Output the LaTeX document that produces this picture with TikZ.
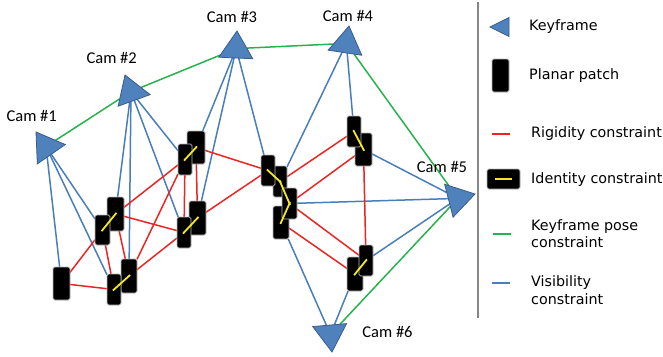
\documentclass[tikz,border=0pt]{standalone}
\usepackage{fontspec}
\usetikzlibrary{shapes.geometric,backgrounds}
\newfontfamily\camfont{Carlito}
\newfontfamily\legfont{DejaVu Sans}
\definecolor{camfill}{RGB}{79,129,189}
\definecolor{camedge}{RGB}{56,93,138}
\definecolor{rigid}{RGB}{238,36,36}
\definecolor{visib}{RGB}{74,126,187}
\definecolor{kfpose}{RGB}{40,178,78}
\definecolor{idline}{RGB}{245,232,30}
\definecolor{patchedge}{RGB}{185,185,185}
\definecolor{divider}{RGB}{135,135,135}
\tikzset{
  cam/.style={shape=isosceles triangle, isosceles triangle stretches,
    minimum width=34pt, minimum height=27pt, inner sep=0pt, outer sep=0pt,
    fill=camfill, draw=camedge, line width=0.8pt, anchor=apex},
  legcam/.style={cam, minimum width=19pt, minimum height=19pt},
  patch/.style={rectangle, fill=black, draw=patchedge, line width=0.8pt,
    rounded corners=1.6pt, inner sep=0pt, outer sep=0pt},
  camlabel/.style={font=\camfont\fontsize{16.5}{20}\selectfont, inner sep=0pt, anchor=base},
  legtext/.style={font=\legfont\fontsize{14.3}{17.5}\selectfont, inner sep=0pt,
    anchor=base west, align=left},
  rigidity/.style={draw=rigid, line width=1.5pt},
  visibility/.style={draw=visib, line width=1.5pt},
  posecon/.style={draw=kfpose, line width=1.5pt},
  identity/.style={draw=idline, line width=1.8pt, shorten <=-1.5pt, shorten >=-1.5pt}
}
\begin{document}
\begin{tikzpicture}[x=1pt,y=-1pt]
\useasboundingbox (0,0) rectangle (663,356);

% keyframes (cameras), placed by apex and heading
\node[cam, rotate=124.6] (c1) at (36,132) {};
\node[cam, rotate=109.8] (c2) at (125,75) {};
\node[cam, rotate=87.4]  (c3) at (237,31) {};
\node[cam, rotate=81.4]  (c4) at (349,26) {};
\node[cam, rotate=14.4]  (c5) at (475,194) {};
\node[cam, rotate=-85]   (c6) at (332,352) {};

\node[camlabel] (l1) at (31.7,121.5) {Cam \#1};
\node[camlabel] (l2) at (111.7,63) {Cam \#2};
\node[camlabel] (l3) at (232,22.5) {Cam \#3};
\node[camlabel] (l4) at (348,21.5) {Cam \#4};
\node[camlabel] (l5) at (442,172.5) {Cam \#5};
\node[camlabel] (l6) at (387.5,337) {Cam \#6};

% planar patches (centres and sizes), back ones first
\node[patch, minimum width=17pt, minimum height=34pt] (A1) at (115.5,214) {};
\node[patch, minimum width=15pt, minimum height=30pt] (A2) at (102.5,230) {};
\node[patch, minimum width=16pt, minimum height=34pt] (B1) at (129,276) {};
\node[patch, minimum width=14pt, minimum height=31pt] (B2) at (114,289.5) {};
\node[patch, minimum width=17pt, minimum height=33pt] (C)  at (61.5,283.5) {};
\node[patch, minimum width=18pt, minimum height=33pt] (D1) at (196,147.5) {};
\node[patch, minimum width=14pt, minimum height=31pt] (D2) at (185,159.5) {};
\node[patch, minimum width=17pt, minimum height=34pt] (E1) at (197.5,218) {};
\node[patch, minimum width=14pt, minimum height=31pt] (E2) at (184,232.5) {};
\node[patch, minimum width=16pt, minimum height=33pt] (F4) at (281,222.5) {};
\node[patch, minimum width=14pt, minimum height=31pt] (F2) at (280,181.5) {};
\node[patch, minimum width=15pt, minimum height=31pt] (F3) at (289.5,203.5) {};
\node[patch, minimum width=14pt, minimum height=31pt] (F1) at (268,170.5) {};
\node[patch, minimum width=17pt, minimum height=33pt] (G2) at (363.5,149.5) {};
\node[patch, minimum width=14pt, minimum height=31pt] (G1) at (354,131.5) {};
\node[patch, minimum width=16pt, minimum height=34pt] (H2) at (355,274) {};
\node[patch, minimum width=14pt, minimum height=31pt] (H1) at (366,260.5) {};

% identity constraints between overlapping patches
\draw[identity] (A2.center) -- (A1.center);
\draw[identity] (B2.center) -- (B1.center);
\draw[identity] (D2.center) -- (D1.center);
\draw[identity] (E2.center) -- (E1.center);
\draw[identity] (F1.center) -- (F2.center);
\draw[identity] (F2.center) -- (F3.center);
\draw[identity] (F3.center) -- (F4.center);
\draw[identity] (G1.center) -- (G2.center);
\draw[identity] (H2.center) -- (H1.center);

% constraints underneath patches and keyframes
\begin{pgfonlayer}{background}
  % keyframe pose
  \draw[posecon] (c1) -- (c2);
  \draw[posecon] (c2) -- (c3);
  \draw[posecon] (c3) -- (c4);
  \draw[posecon] (c4) -- (c5);
  \draw[posecon] (c5) -- (c6);
  % visibility
  \draw[visibility] (c1) -- (C);
  \draw[visibility] (c1) -- (B2);
  \draw[visibility] (c1) -- (A2);
  \draw[visibility] (c2) -- (A1);
  \draw[visibility] (c2) -- (B1);
  \draw[visibility] (c2) -- (E2);
  \draw[visibility] (c2) -- (D2);
  \draw[visibility] (c3) -- (D1);
  \draw[visibility] (c3) -- (E1);
  \draw[visibility] (c3) -- (F1);
  \draw[visibility] (c4) -- (F2);
  \draw[visibility] (c4) -- (G1);
  \draw[visibility] (c5) -- (G2);
  \draw[visibility] (c5) -- (F3);
  \draw[visibility] (c5) -- (H1);
  \draw[visibility] (c6) -- (F4);
  \draw[visibility] (c6) -- (H2);
  % rigidity
  \draw[rigidity] (C) -- (A2);
  \draw[rigidity] (C) -- (B2);
  \draw[rigidity] (A1) -- (D2);
  \draw[rigidity] (A1) -- (E2);
  \draw[rigidity] (A1) -- (B1);
  \draw[rigidity] (A2) -- (B2);
  \draw[rigidity] (B1) -- (D2);
  \draw[rigidity] (B1) -- (E2);
  \draw[rigidity] (D2) -- (E2);
  \draw[rigidity] (D1) -- (E1);
  \draw[rigidity] (D1) -- (F1);
  \draw[rigidity] (E1) -- (F1);
  \draw[rigidity] (F2) -- (G1);
  \draw[rigidity] (F3) -- (G2);
  \draw[rigidity] (F3) -- (H1);
  \draw[rigidity] (F4) -- (H2);
  \draw[rigidity] (G2) -- (H1);
\end{pgfonlayer}

% legend
\draw[divider, line width=2pt] (478,2) -- (478,318);
\node[legcam, rotate=180] (kcam) at (490,27) {};
\node[legtext] (tk) at (529,30) {Keyframe};
\node[patch, minimum width=17pt, minimum height=33pt] (kpatch) at (500.5,75.5) {};
\node[legtext] (tp) at (529,79) {Planar patch};
\draw[rigidity] (492,134) -- (510,134);
\node[legtext] (tr) at (531,137.7) {Rigidity constraint};
\node[patch, minimum width=33pt, minimum height=20pt] (kid) at (503.5,179) {};
\draw[draw=idline, line width=1.8pt] ([xshift=-8.5pt]kid.center) -- ([xshift=8.5pt]kid.center);
\node[legtext] (ti) at (531,183.3) {Identity constraint};
\draw[posecon] (493,234) -- (511,234);
\node[legtext] (tg) at (531,247.7) {Keyframe pose\\constraint};
\draw[visibility] (492,283) -- (510,283);
\node[legtext] (tv) at (531,304.3) {Visibility\\constraint};
\end{tikzpicture}
\end{document}
